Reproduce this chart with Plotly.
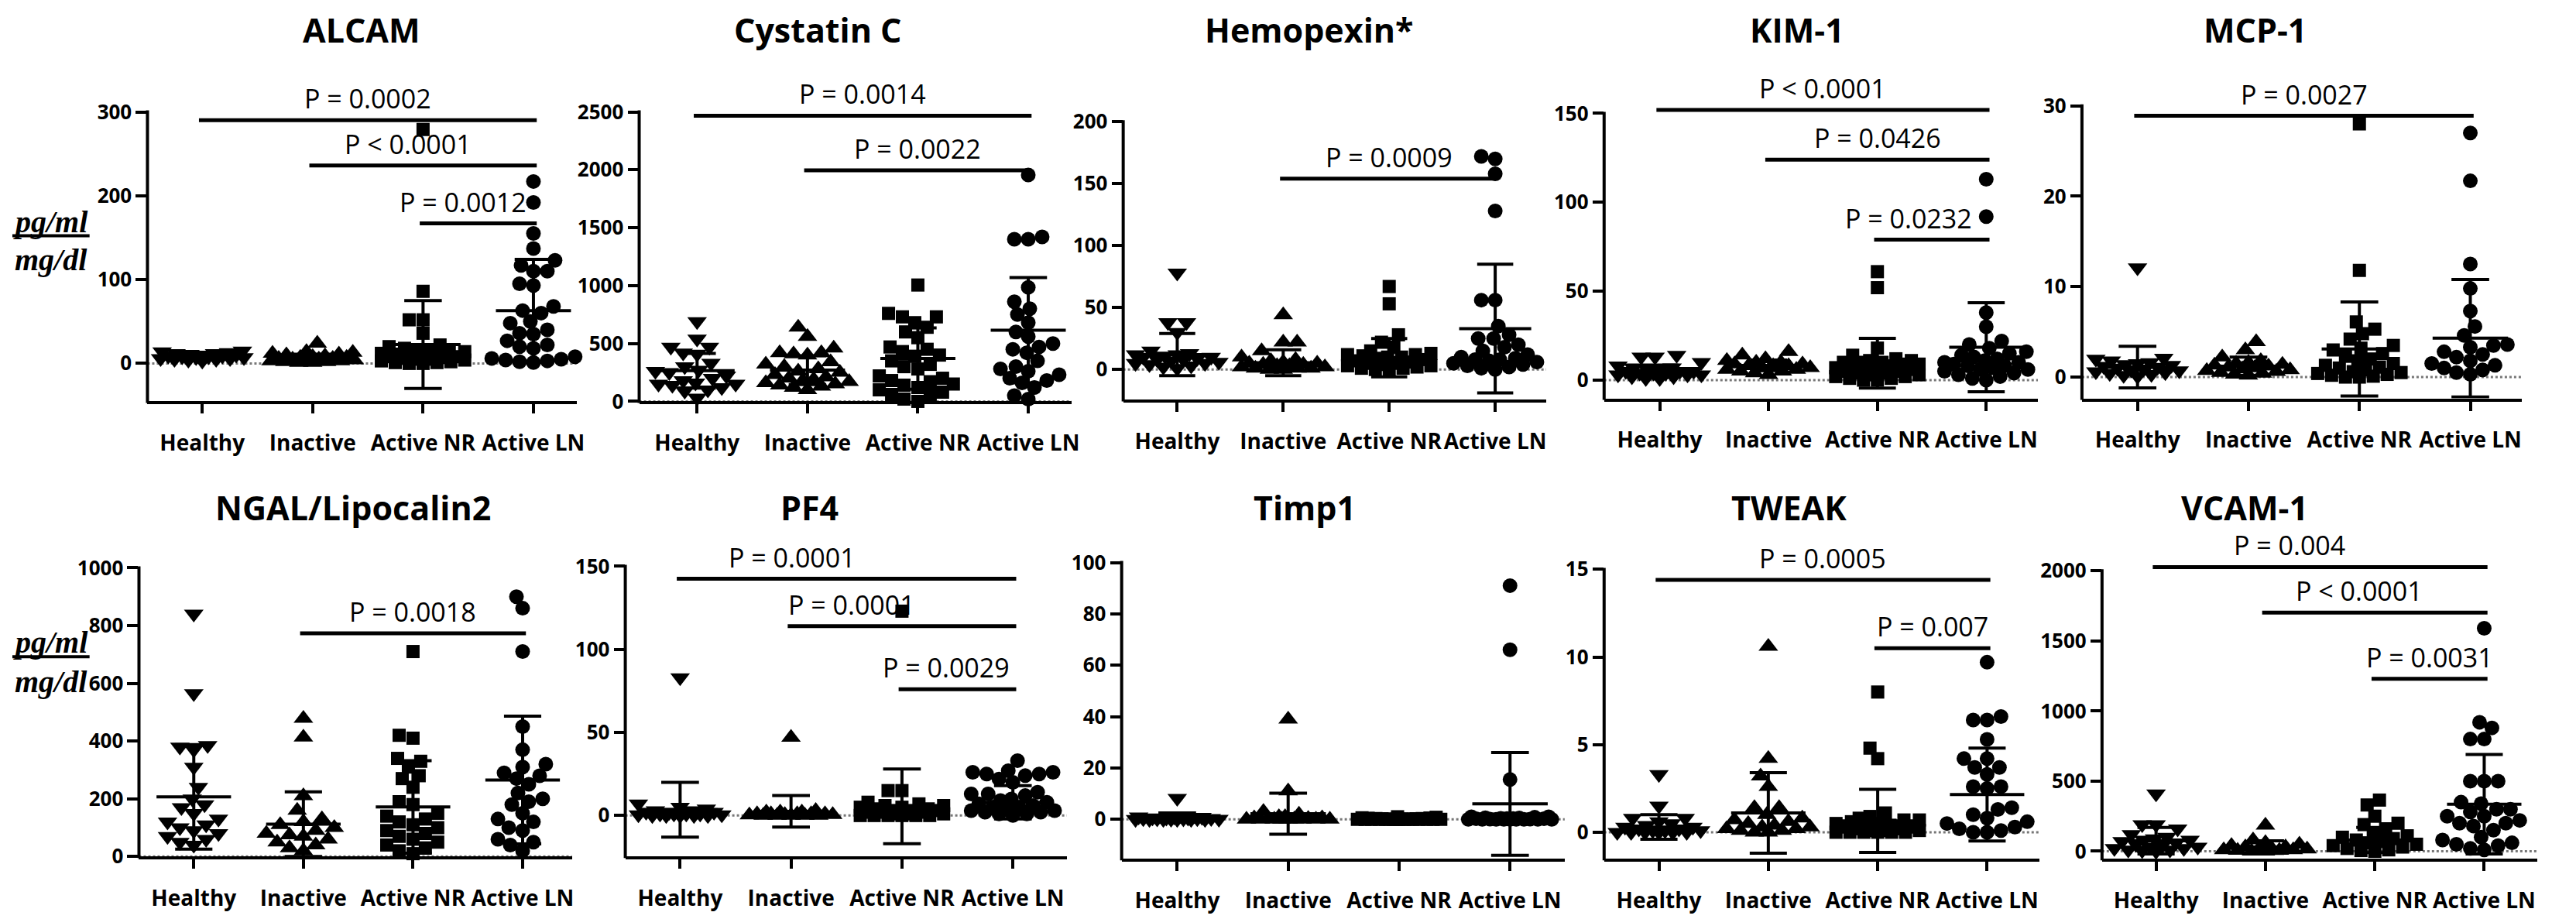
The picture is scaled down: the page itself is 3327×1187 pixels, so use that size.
import plotly.graph_objects as go

FIG_W, FIG_H = 3327, 1187

GROUPS = ["Healthy", "Inactive", "Active NR", "Active LN"]

# ---------------- data ----------------
MARKERS = ["ALCAM", "Cystatin C", "Hemopexin*", "KIM-1", "MCP-1",
           "NGAL/Lipocalin2", "PF4", "Timp1", "TWEAK", "VCAM-1"]

ALCAM_HEALTHY = [15, 14, 13, 12, 12, 11, 10, 10, 9, 9, 8, 8, 7, 7, 6, 6, 5, 5, 4, 3]
ALCAM_INACTIVE = [24, 14, 13, 12, 11, 10, 9, 8, 7, 7, 6, 6, 5, 5, 4, 4, 3, 3, 2, 2, 1, 1]
ALCAM_ACTIVE_NR = [279, 86, 52, 52, 36, 22, 20, 18, 16, 15, 14, 13, 12, 11, 10, 10, 9, 8, 8, 7, 6, 5, 5, 4, 3, 2, 1, 1, 0, 0]
ALCAM_ACTIVE_LN = [217, 192, 155, 137, 123, 117, 110, 110, 95, 93, 68, 63, 60, 50, 48, 40, 36, 35, 27, 22, 20, 18, 8, 6, 5, 4, 3, 2, 1]

CYSC_HEALTHY = [690, 540, 470, 470, 420, 410, 330, 300, 270, 260, 250, 220, 200, 180, 160, 150, 150, 140, 120, 100, 90, 30]
CYSC_INACTIVE = [640, 560, 460, 420, 420, 410, 400, 340, 320, 300, 280, 260, 250, 230, 210, 200, 190, 180, 170, 160, 150, 140, 130, 120, 100]
CYSC_ACTIVE_NR = [1005, 760, 730, 730, 680, 640, 600, 550, 470, 450, 430, 400, 390, 350, 320, 300, 280, 220, 200, 180, 170, 150, 140, 120, 100, 80, 60, 40, 20, 0]
CYSC_ACTIVE_LN = [1955, 1420, 1400, 1400, 985, 860, 800, 750, 680, 600, 560, 500, 470, 450, 420, 350, 300, 280, 260, 230, 200, 180, 160, 120, 50, 20]

HPX_HEALTHY = [78, 38, 38, 30, 15, 13, 12, 12, 11, 10, 10, 9, 8, 8, 7, 6, 5, 5, 4, 3, 2, 1]
HPX_INACTIVE = [44, 22, 22, 15, 10, 8, 7, 6, 5, 5, 4, 4, 3, 3, 2, 2, 1, 1, 1, 0, 0]
HPX_ACTIVE_NR = [67, 53, 28, 22, 18, 15, 13, 12, 12, 11, 10, 10, 9, 8, 7, 6, 5, 5, 4, 3, 3, 2, 1, 1, 0, 0]
HPX_ACTIVE_LN = [172, 170, 158, 128, 56, 56, 35, 28, 25, 25, 20, 18, 15, 12, 10, 9, 8, 8, 7, 6, 5, 4, 3, 2, 1, 0]

KIM_HEALTHY = [14, 13, 13, 10, 8, 7, 7, 6, 6, 5, 5, 5, 4, 4, 4, 3, 3, 3, 2, 2, 1, 1]
KIM_INACTIVE = [16, 14, 12, 11, 10, 10, 9, 9, 8, 8, 8, 7, 7, 6, 6, 5, 5, 4, 3]
KIM_ACTIVE_NR = [61, 52, 18, 14, 12, 11, 11, 10, 10, 10, 9, 9, 8, 8, 7, 7, 6, 6, 5, 5, 4, 4, 3, 3, 2, 2, 1, 1, 0, 0]
KIM_ACTIVE_LN = [113, 92, 38, 30, 22, 20, 18, 16, 15, 14, 13, 12, 11, 10, 10, 9, 8, 8, 7, 6, 6, 5, 4, 3, 2, 1, 0]

MCP_HEALTHY = [12.1, 2.1, 2.0, 1.8, 1.6, 1.5, 1.4, 1.3, 1.2, 1.1, 1.0, 0.9, 0.8, 0.7, 0.6, 0.5, 0.4, 0.3, 0.2, 0.1]
MCP_INACTIVE = [3.9, 3.0, 2.2, 1.8, 1.6, 1.5, 1.4, 1.3, 1.2, 1.1, 1.0, 0.9, 0.8, 0.7, 0.6, 0.5, 0.4, 0.3, 0.2]
MCP_ACTIVE_NR = [28, 11.8, 6.1, 5.3, 4.8, 4.2, 3.5, 3.2, 3.0, 2.6, 2.3, 2.0, 1.8, 1.5, 1.3, 1.1, 1.0, 0.8, 0.6, 0.5, 0.4, 0.3, 0.2, 0.1, 0.0, 0.0]
MCP_ACTIVE_LN = [27, 21.7, 12.5, 9.8, 7.3, 5.6, 4.6, 3.6, 3.5, 3.3, 2.8, 2.5, 2.2, 1.8, 1.5, 1.3, 1.0, 0.8, 0.5, 0.3]

NGAL_HEALTHY = [840, 565, 385, 380, 370, 310, 240, 200, 180, 170, 150, 130, 120, 110, 100, 90, 80, 70, 60, 50, 40]
NGAL_INACTIVE = [478, 413, 210, 160, 130, 120, 110, 100, 90, 80, 75, 70, 60, 50, 40, 30, 20]
NGAL_ACTIVE_NR = [710, 420, 410, 340, 330, 310, 280, 270, 240, 190, 180, 150, 140, 130, 120, 110, 100, 90, 80, 70, 60, 50, 40, 30, 20, 10]
NGAL_ACTIVE_LN = [900, 860, 710, 450, 370, 320, 310, 290, 280, 270, 250, 220, 200, 190, 180, 150, 130, 120, 100, 90, 60, 50, 40, 20]

PF4_HEALTHY = [83, 7, 5, 4, 3, 3, 2, 2, 2, 1, 1, 1, 1, 0.5, 0.5, 0, 0, 0, 0, 0]
PF4_INACTIVE = [47, 3, 2, 2, 2, 1, 1, 1, 1, 1, 0.5, 0.5, 0.3, 0, 0, 0, 0, 0]
PF4_ACTIVE_NR = [123, 15, 15, 8, 7, 6, 6, 5, 5, 4, 4, 3, 3, 3, 2, 2, 2, 1, 1, 1, 0, 0, 0, 0, 0, 0]
PF4_ACTIVE_LN = [33, 27, 26, 26, 25, 25, 24, 22, 20, 14, 13, 13, 12, 10, 9, 8, 7, 6, 5, 5, 4, 3, 3, 2, 2, 1, 1, 0]

TIMP_HEALTHY = [8.2, 1, 1, 0.8, 0.6, 0.5, 0.5, 0.4, 0.3, 0.3, 0.2, 0.2, 0.1, 0.1, 0, 0, 0, 0, 0, 0]
TIMP_INACTIVE = [39, 11, 3, 2, 1, 1, 0.5, 0.5, 0.3, 0.2, 0.1, 0, 0, 0, 0, 0, 0, 0, 0]
TIMP_ACTIVE_NR = [1.0, 0.8, 0.6, 0.5, 0.4, 0.3, 0.3, 0.2, 0.2, 0.1, 0.1, 0.1, 0, 0, 0, 0, 0, 0, 0, 0, 0, 0, 0, 0, 0, 0]
TIMP_ACTIVE_LN = [91, 66, 15.5, 1, 1, 0.8, 0.6, 0.5, 0.4, 0.3, 0.3, 0.2, 0.2, 0.1, 0.1, 0, 0, 0, 0, 0, 0, 0, 0, 0]

TWEAK_HEALTHY = [3.3, 1.5, 0.8, 0.8, 0.6, 0.5, 0.4, 0.3, 0.3, 0.2, 0.2, 0.1, 0.1, 0.1, 0, 0, 0, 0, 0, 0]
TWEAK_INACTIVE = [10.6, 4.2, 3.2, 2.6, 1.4, 1.4, 1.0, 0.8, 0.7, 0.6, 0.5, 0.4, 0.3, 0.3, 0.2, 0.2, 0.1, 0.1, 0, 0]
TWEAK_ACTIVE_NR = [8, 4.8, 4.2, 1.1, 0.9, 0.8, 0.7, 0.7, 0.6, 0.5, 0.5, 0.4, 0.4, 0.3, 0.3, 0.2, 0.2, 0.1, 0.1, 0.1, 0, 0, 0, 0, 0, 0]
TWEAK_ACTIVE_LN = [9.7, 6.6, 6.4, 6.4, 5.3, 4.2, 4.2, 3.7, 3.7, 3.3, 2.6, 2.6, 2.5, 1.4, 1.3, 1.0, 0.8, 0.6, 0.5, 0.3, 0.2, 0.1, 0, 0]

VCAM_HEALTHY = [410, 190, 190, 160, 120, 100, 90, 80, 80, 70, 60, 50, 40, 30, 30, 20, 20, 10, 10, 5, 0]
VCAM_INACTIVE = [185, 80, 60, 50, 40, 30, 30, 20, 20, 15, 10, 10, 5, 5, 0, 0]
VCAM_ACTIVE_NR = [365, 330, 250, 200, 190, 160, 120, 110, 100, 90, 80, 70, 60, 50, 40, 30, 20, 10, 5, 0]
VCAM_ACTIVE_LN = [1590, 920, 880, 800, 800, 500, 500, 500, 350, 340, 300, 300, 280, 250, 250, 220, 200, 200, 180, 150, 100, 80, 60, 50, 40, 20, 10]

VALUES = [
    [ALCAM_HEALTHY, ALCAM_INACTIVE, ALCAM_ACTIVE_NR, ALCAM_ACTIVE_LN],
    [CYSC_HEALTHY, CYSC_INACTIVE, CYSC_ACTIVE_NR, CYSC_ACTIVE_LN],
    [HPX_HEALTHY, HPX_INACTIVE, HPX_ACTIVE_NR, HPX_ACTIVE_LN],
    [KIM_HEALTHY, KIM_INACTIVE, KIM_ACTIVE_NR, KIM_ACTIVE_LN],
    [MCP_HEALTHY, MCP_INACTIVE, MCP_ACTIVE_NR, MCP_ACTIVE_LN],
    [NGAL_HEALTHY, NGAL_INACTIVE, NGAL_ACTIVE_NR, NGAL_ACTIVE_LN],
    [PF4_HEALTHY, PF4_INACTIVE, PF4_ACTIVE_NR, PF4_ACTIVE_LN],
    [TIMP_HEALTHY, TIMP_INACTIVE, TIMP_ACTIVE_NR, TIMP_ACTIVE_LN],
    [TWEAK_HEALTHY, TWEAK_INACTIVE, TWEAK_ACTIVE_NR, TWEAK_ACTIVE_LN],
    [VCAM_HEALTHY, VCAM_INACTIVE, VCAM_ACTIVE_NR, VCAM_ACTIVE_LN],
]

# group means and SDs as drawn in the picture
MEANS = [
    [8.5, 6, 22.5, 63],
    [265, 270, 370, 615],
    [12, 5.5, 9.5, 33],
    [5, 8.3, 9.5, 18.5],
    [1.1, 1.2, 3.1, 4.3],
    [207, 112, 172, 265],
    [3.5, 2.5, 5.5, 8],
    [0.7, 2.2, 0.2, 6],
    [0.3, 1.1, 0.65, 2.15],
    [75, 30, 80, 335],
]
SDS = [
    [3.5, 5, 52.5, 61],
    [150, 125, 265, 455],
    [17, 10.5, 15.5, 52],
    [3.5, 3, 14, 25],
    [2.3, 1.0, 5.2, 6.5],
    [181, 112, 160, 221],
    [16.5, 9.5, 22.5, 10],
    [1.8, 8, 0.3, 20],
    [0.7, 2.3, 1.8, 2.65],
    [95, 45, 90, 355],
]

Y_TICKS = [
    [0, 100, 200, 300],
    [0, 500, 1000, 1500, 2000, 2500],
    [0, 50, 100, 150, 200],
    [0, 50, 100, 150],
    [0, 10, 20, 30],
    [0, 200, 400, 600, 800, 1000],
    [0, 50, 100, 150],
    [0, 20, 40, 60, 80, 100],
    [0, 5, 10, 15],
    [0, 500, 1000, 1500, 2000],
]

# significance comparisons: (group from, group to, bar level, label)
P_BARS = [
    [(0, 3, 290, "P = 0.0002"), (1, 3, 236, "P < 0.0001"), (2, 3, 167, "P = 0.0012")],
    [(0, 3, 2467, "P = 0.0014"), (1, 3, 1995, "P = 0.0022")],
    [(1, 3, 154, "P = 0.0009")],
    [(0, 3, 152, "P < 0.0001"), (1, 3, 124, "P = 0.0426"), (2, 3, 79, "P = 0.0232")],
    [(0, 3, 28.9, "P = 0.0027")],
    [(1, 3, 773, "P = 0.0018")],
    [(0, 3, 142.5, "P = 0.0001"), (1, 3, 114, "P = 0.0001"), (2, 3, 76, "P = 0.0029")],
    [],
    [(0, 3, 14.4, "P = 0.0005"), (2, 3, 10.5, "P = 0.007")],
    [(0, 3, 2027, "P = 0.004"), (1, 3, 1702, "P < 0.0001"), (2, 3, 1230, "P = 0.0031")],
]

# ---------------- layout geometry (pixels) ----------------
GEOM = [
    dict(ax=183, c0=254, st=143, right=739, zero=465, ttop=134, bot=515, tx=460, ty=26),
    dict(ax=820, c0=895, st=143, right=1380, zero=515, ttop=134, bot=515, tx=1052, ty=26),
    dict(ax=1447, c0=1517, st=137.3, right=1995, zero=473, ttop=147, bot=513, tx=1688, ty=26),
    dict(ax=2070, c0=2142, st=141, right=2632, zero=487, ttop=136, bot=511, tx=2320, ty=26),
    dict(ax=2689, c0=2761, st=143.7, right=3259, zero=483, ttop=126, bot=511, tx=2913, ty=26),
    dict(ax=172, c0=243, st=142, right=733, zero=1114, ttop=734, bot=1114, tx=449, ty=655),
    dict(ax=802, c0=873, st=143.7, right=1374, zero=1060, ttop=732, bot=1114, tx=1041, ty=655),
    dict(ax=1445, c0=1517, st=143.7, right=2019, zero=1065, ttop=727, bot=1117, tx=1682, ty=655),
    dict(ax=2070, c0=2141, st=141.7, right=2634, zero=1082, ttop=736, bot=1117, tx=2309, ty=655),
    dict(ax=2715, c0=2785, st=141.7, right=3279, zero=1107, ttop=738, bot=1117, tx=2900, ty=655),
]
P_LABEL_SHIFT = {(6, 0): -70, (6, 1): -65, (6, 2): -15, (9, 0): -40, (9, 1): -20,
                 (0, 1): -19, (0, 2): -20, (3, 2): -30}

SYMBOLS = ["triangle-down", "triangle-up", "square", "circle"]
SIZES = [22, 22, 17, 19]
FONT = "Open Sans"


def swarm(vals, ypx, dmin=17.0, half=54):
    """Deterministic beeswarm offsets in pixels."""
    order = sorted(range(len(vals)), key=lambda k: vals[k])
    cands = [0]
    for s in range(2, half + 1, 2):
        cands += [-s, s]
    placed, offs = [], [0.0] * len(vals)
    for k in order:
        y = vals[k] * ypx
        best = None
        for c in cands:
            if all((c - px) ** 2 + (y - py) ** 2 >= dmin * dmin for px, py in placed):
                best = c
                break
        if best is None:
            best = max(cands, key=lambda c: min((c - px) ** 2 + (y - py) ** 2 for px, py in placed))
        placed.append((best, y))
        offs[k] = best
    return offs


fig = go.Figure()
layout = dict(width=FIG_W, height=FIG_H, margin=dict(l=0, r=0, t=0, b=0),
              paper_bgcolor="white", plot_bgcolor="white", showlegend=False)
annotations, shapes = [], []

for p, name in enumerate(MARKERS):
    g = GEOM[p]
    n = p + 1
    xs = "x" if n == 1 else f"x{n}"
    ys = "y" if n == 1 else f"y{n}"
    top_val = Y_TICKS[p][-1]
    ypx = (g["zero"] - g["ttop"]) / top_val
    y_lo = -(g["bot"] - g["zero"]) / ypx
    bar_px = [g["zero"] - b[2] * ypx for b in P_BARS[p]]
    top_px = min([g["ttop"]] + bar_px) - 14
    y_hi = (g["zero"] - top_px) / ypx
    x_lo = -(g["c0"] - g["ax"]) / g["st"]
    x_hi = (g["right"] - g["c0"]) / g["st"]

    tickfont = dict(family=FONT, size=28, color="black", weight="bold")
    layout[f"xaxis{'' if n == 1 else n}"] = dict(
        domain=[g["ax"] / FIG_W, g["right"] / FIG_W], range=[x_lo, x_hi], anchor=ys,
        tickvals=[0, 1, 2, 3], ticktext=GROUPS, ticks="outside", ticklen=12, tickwidth=4,
        tickcolor="black", showline=True, linewidth=4, linecolor="black", showgrid=False,
        zeroline=False, tickfont=tickfont, tickangle=0, ticklabelstandoff=14, fixedrange=True)
    layout[f"yaxis{'' if n == 1 else n}"] = dict(
        domain=[1 - g["bot"] / FIG_H, 1 - top_px / FIG_H], range=[y_lo, y_hi], anchor=xs,
        tickvals=Y_TICKS[p], ticks="outside", ticklen=14, tickwidth=4, tickcolor="black",
        showline=False, showgrid=False, zeroline=False,
        tickfont=dict(family=FONT, size=26, color="black", weight="bold"),
        ticklabelstandoff=0, fixedrange=True)

    shapes.append(dict(type="line", xref="paper", yref="paper",
                       x0=g["ax"] / FIG_W, x1=g["ax"] / FIG_W,
                       y0=1 - (g["bot"] + 2) / FIG_H, y1=1 - (g["ttop"] - 2) / FIG_H,
                       line=dict(color="black", width=4)))

    fig.add_trace(go.Scatter(x=[x_lo, x_hi], y=[0, 0], mode="lines", xaxis=xs, yaxis=ys,
                             line=dict(color="#777777", width=3, dash="dot"), hoverinfo="skip"))

    for gi in range(4):
        vals = VALUES[p][gi]
        offs = swarm(vals, ypx)
        fig.add_trace(go.Scatter(
            x=[gi + o / g["st"] for o in offs], y=vals, mode="markers", xaxis=xs, yaxis=ys,
            marker=dict(symbol=SYMBOLS[gi], size=SIZES[gi], color="black", line=dict(width=0)),
            cliponaxis=False, hoverinfo="skip"))
        m, s = MEANS[p][gi], SDS[p][gi]
        fig.add_trace(go.Scatter(
            x=[gi - 0.34, gi + 0.34, None, gi, gi, None, gi - 0.17, gi + 0.17, None, gi - 0.17, gi + 0.17],
            y=[m, m, None, m - s, m + s, None, m + s, m + s, None, m - s, m - s],
            mode="lines", xaxis=xs, yaxis=ys, line=dict(color="black", width=4),
            hoverinfo="skip"))

    for bi, (a, b, lvl, txt) in enumerate(P_BARS[p]):
        fig.add_trace(go.Scatter(x=[a - 0.03, b + 0.03], y=[lvl, lvl], mode="lines",
                                 xaxis=xs, yaxis=ys, line=dict(color="black", width=5),
                                 hoverinfo="skip"))
        annotations.append(dict(x=(a + b) / 2, y=lvl, xref=xs, yref=ys, text=txt,
                                showarrow=False, xanchor="center", yanchor="middle", yshift=28,
                                xshift=P_LABEL_SHIFT.get((p, bi), 0),
                                font=dict(family=FONT, size=34, color="black")))

    annotations.append(dict(x=g["tx"] / FIG_W, y=1 - g["ty"] / FIG_H, xref="paper", yref="paper",
                            text=name, showarrow=False, xanchor="center", yanchor="middle",
                            font=dict(family=FONT, size=43, color="black", weight="bold")))

# y-axis unit labels (pg/ml over mg/dl)
for (y_num, y_line, y_den) in [(279, 297, 329), (832, 851, 884)]:
    lab_font = dict(family="Liberation Serif", size=40, color="black", weight="bold", style="italic")
    annotations.append(dict(x=58 / FIG_W, y=1 - y_num / FIG_H, xref="paper", yref="paper",
                            text="pg/ml", showarrow=False, xanchor="center", yanchor="middle",
                            font=lab_font))
    annotations.append(dict(x=58 / FIG_W, y=1 - y_den / FIG_H, xref="paper", yref="paper",
                            text="mg/dl", showarrow=False, xanchor="center", yanchor="middle",
                            font=lab_font))
    shapes.append(dict(type="line", xref="paper", yref="paper", x0=8 / FIG_W, x1=108 / FIG_W,
                       y0=1 - y_line / FIG_H, y1=1 - y_line / FIG_H,
                       line=dict(color="black", width=4)))

layout["annotations"] = annotations
layout["shapes"] = shapes
fig.update_layout(**layout)
fig.write_html("out.html")
